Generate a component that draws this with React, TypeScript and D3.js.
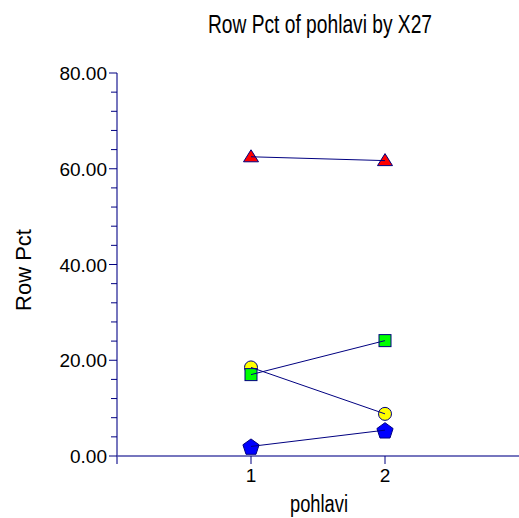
import React from "react";
import * as d3 from "d3";

// Row percentages of each X27 category, for pohlavi = 1 and 2
const categories = [1, 2];
const seriesTriangle = [62.5, 61.7];
const seriesCircle = [18.5, 8.8];
const seriesSquare = [17.0, 24.1];
const seriesPentagon = [2.0, 5.4];
const yTicksMajor = [0, 20, 40, 60, 80];

const W = 519;
const H = 518;
const NAVY = "#000080";
const AXIS = "#4848a8";

export default function App() {
  const x = d3.scaleLinear().domain([0, 3]).range([117, 519]);
  const y = d3.scaleLinear().domain([0, 80]).range([456, 73]);
  const minorTicks = d3.range(0, 80.001, 4);

  const series = [
    { values: seriesTriangle, shape: "triangle", fill: "#ff0000" },
    { values: seriesCircle, shape: "circle", fill: "#ffff00" },
    { values: seriesSquare, shape: "square", fill: "#00ff00" },
    { values: seriesPentagon, shape: "pentagon", fill: "#0000ff" },
  ];

  const marker = (shape: string, cx: number, cy: number, fill: string, key: string) => {
    const common = { fill, stroke: NAVY, strokeWidth: 1 };
    if (shape === "circle") return <circle key={key} cx={cx} cy={cy} r={6.5} {...common} />;
    if (shape === "square") return <rect key={key} x={cx - 6} y={cy - 6} width={12} height={12} {...common} />;
    if (shape === "triangle") {
      const pts = [[cx, cy - 7], [cx + 7.5, cy + 5], [cx - 7.5, cy + 5]];
      return <polygon key={key} points={pts.map((p) => p.join(",")).join(" ")} {...common} />;
    }
    const r = 8.5;
    const pts = d3.range(5).map((i) => {
      const a = -Math.PI / 2 + (i * 2 * Math.PI) / 5;
      return [cx + r * Math.cos(a), cy + 1 + r * Math.sin(a)];
    });
    return <polygon key={key} points={pts.map((p) => p.join(",")).join(" ")} {...common} />;
  };

  const line = d3
    .line<number>()
    .x((_, i) => x(categories[i]))
    .y((d) => y(d));

  return (
    <svg width={W} height={H} style={{ position: "absolute", left: 0, top: 0 }}
      fontFamily="'Liberation Sans', Arial, sans-serif">
      <rect width={W} height={H} fill="#ffffff" />
      <text x={320} y={33} fontSize={25} textAnchor="middle" textLength={224}
        lengthAdjust="spacingAndGlyphs" fill="#000">Row Pct of pohlavi by X27</text>

      {/* y axis */}
      <line x1={x(0)} x2={x(0)} y1={y(80)} y2={464} stroke={AXIS} strokeWidth={1.5} />
      {minorTicks.map((t) => (
        <line key={"m" + t} x1={t % 20 === 0 ? 109 : 111} x2={x(0)} y1={y(t)} y2={y(t)}
          stroke={NAVY} strokeWidth={1} />
      ))}
      {yTicksMajor.map((t) => (
        <text key={"l" + t} x={107} y={y(t) + 7} fontSize={19} textAnchor="end" fill="#000">
          {t.toFixed(2)}
        </text>
      ))}
      <text transform={`translate(31,270) rotate(-90)`} fontSize={22}
        textAnchor="middle" fill="#000">Row  Pct</text>

      {/* x axis */}
      <line x1={x(0)} x2={W} y1={y(0)} y2={y(0)} stroke={AXIS} strokeWidth={1.5} />
      {categories.map((c) => (
        <g key={"x" + c}>
          <line x1={x(c)} x2={x(c)} y1={y(0)} y2={y(0) + 8} stroke={NAVY} strokeWidth={1} />
          <text x={x(c)} y={482} fontSize={19} textAnchor="middle" fill="#000">{c}</text>
        </g>
      ))}
      <text x={319} y={512} fontSize={23} textAnchor="middle" textLength={58}
        lengthAdjust="spacingAndGlyphs" fill="#000">pohlavi</text>

      {/* markers, then connecting lines */}
      {series.map((s, si) =>
        s.values.map((v, i) => marker(s.shape, x(categories[i]), y(v), s.fill, `${si}-${i}`))
      )}
      {series.map((s, si) => (
        <path key={"p" + si} d={line(s.values) || ""} fill="none" stroke={NAVY} strokeWidth={1} />
      ))}
    </svg>
  );
}
